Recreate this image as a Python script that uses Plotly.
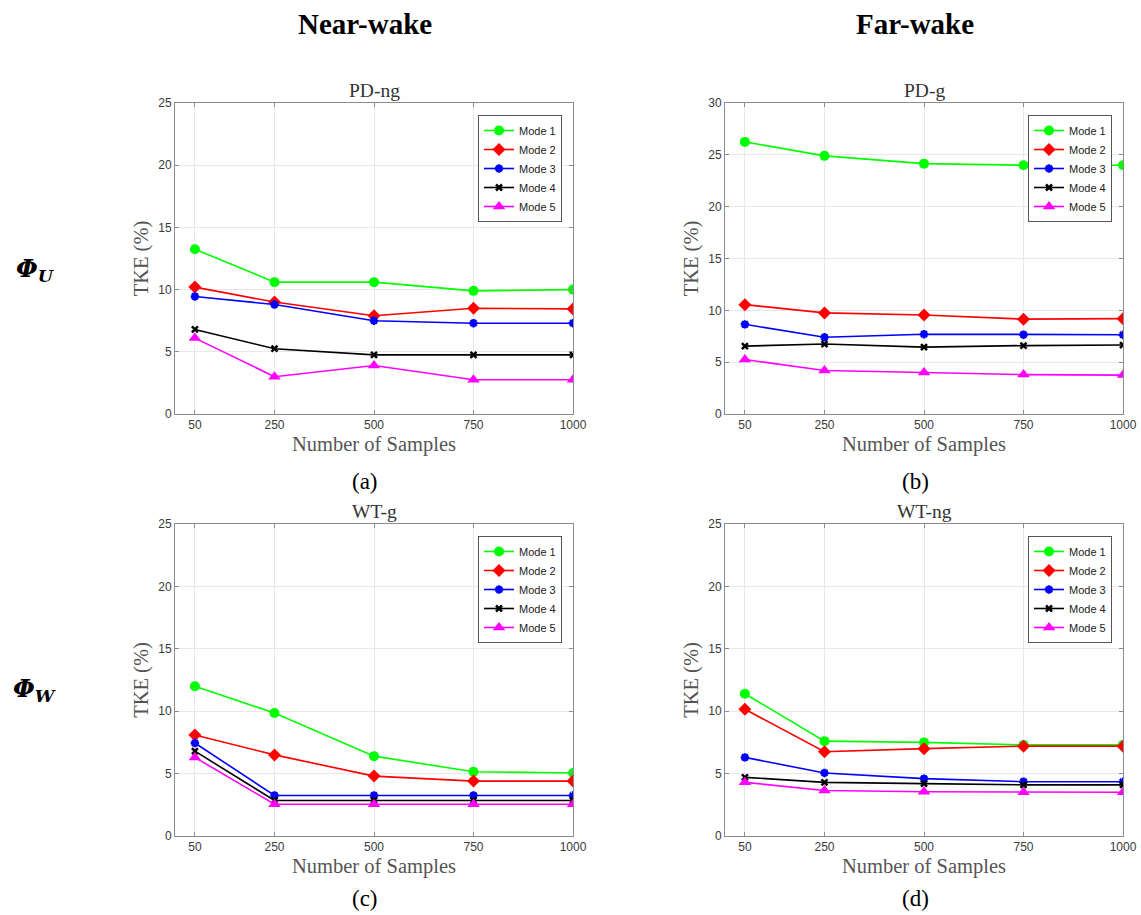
import plotly.graph_objects as go

samples = [50, 250, 500, 750, 1000]
mode_names = ["Mode 1", "Mode 2", "Mode 3", "Mode 4", "Mode 5"]

# (a) PD-ng
pd_ng = [
    [13.25, 10.6, 10.6, 9.9, 10.0],
    [10.2, 9.0, 7.9, 8.5, 8.45],
    [9.45, 8.8, 7.5, 7.3, 7.3],
    [6.8, 5.25, 4.75, 4.75, 4.75],
    [6.1, 3.0, 3.9, 2.75, 2.75],
]
# (b) PD-g
pd_g = [
    [26.25, 24.9, 24.15, 24.0, 24.0],
    [10.55, 9.75, 9.55, 9.15, 9.2],
    [8.65, 7.4, 7.7, 7.65, 7.65],
    [6.55, 6.75, 6.45, 6.6, 6.65],
    [5.25, 4.2, 4.0, 3.8, 3.75],
]
# (c) WT-g
wt_g = [
    [12.0, 9.85, 6.4, 5.15, 5.05],
    [8.1, 6.5, 4.8, 4.4, 4.4],
    [7.45, 3.25, 3.25, 3.25, 3.25],
    [6.8, 2.85, 2.85, 2.85, 2.85],
    [6.3, 2.55, 2.55, 2.55, 2.55],
]
# (d) WT-ng
wt_ng = [
    [11.4, 7.6, 7.5, 7.3, 7.3],
    [10.15, 6.75, 7.0, 7.2, 7.2],
    [6.3, 5.05, 4.6, 4.35, 4.35],
    [4.7, 4.3, 4.2, 4.1, 4.1],
    [4.3, 3.65, 3.55, 3.5, 3.5],
]

panel_titles = ["PD-ng", "PD-g", "WT-g", "WT-ng"]
panel_data = [pd_ng, pd_g, wt_g, wt_ng]
panel_ymax = [25, 30, 25, 25]
captions = ["(a)", "(b)", "(c)", "(d)"]

colors = ["#00FF00", "#FF0000", "#0000FF", "#000000", "#FF00FF"]
symbols = ["circle", "diamond", "asterisk-open", "x-thin-open", "triangle-up"]
msizes = [10, 10, 7, 6, 11]

W, H = 1141, 915
# plot areas in pixels (left, right, top, bottom)
areas = [
    (175, 573, 103, 414),
    (725, 1123, 103, 414),
    (175, 573, 524, 836),
    (725, 1123, 524, 836),
]
legend_pos = [(562, 115), (1112, 115), (562, 536), (1112, 536)]
caption_offset = [68, 68, 62, 62]

serif = "Liberation Serif"
sans = "Liberation Sans"

fig = go.Figure()
layout = dict(
    width=W, height=H, margin=dict(l=0, r=0, t=0, b=0, autoexpand=False),
    paper_bgcolor="white", plot_bgcolor="white", showlegend=True,
)
annotations = []


def ann(text, px, py, size, family=serif, color="black"):
    return dict(text=text, x=px / W, y=1 - py / H, xref="paper", yref="paper",
                showarrow=False, xanchor="center", yanchor="middle",
                font=dict(family=family, size=size, color=color))


for p in range(4):
    ax = "" if p == 0 else str(p + 1)
    leg = "legend" if p == 0 else f"legend{p + 1}"
    for m in range(5):
        mk = dict(symbol=symbols[m], size=msizes[m], color=colors[m])
        if symbols[m].endswith("open"):
            mk["line"] = dict(color=colors[m], width=2.5)
        fig.add_trace(go.Scatter(
            x=samples, y=panel_data[p][m], mode="lines+markers",
            name=mode_names[m], line=dict(color=colors[m], width=1.6),
            marker=mk, xaxis="x" + ax, yaxis="y" + ax, legend=leg,
        ))
    l, r, t, b = areas[p]
    axis_common = dict(
        showline=True, linecolor="#8c8c8c", linewidth=1, mirror="ticks",
        ticks="inside", ticklen=4, tickcolor="#8c8c8c", automargin=False,
        showgrid=True, gridcolor="#e8e8e8", gridwidth=1, zeroline=False,
        tickfont=dict(family=sans, size=12, color="#3a3a3a"),
    )
    layout["xaxis" + ax] = dict(
        axis_common, domain=[l / W, r / W], range=[0, 1000],
        tickvals=samples, anchor="y" + ax,
        title=dict(text="Number of Samples", font=dict(family=serif, size=20.5, color="#555555"), standoff=5),
    )
    layout["yaxis" + ax] = dict(
        axis_common, domain=[1 - b / H, 1 - t / H], range=[0, panel_ymax[p]],
        dtick=5, anchor="x" + ax,
        title=dict(text="TKE (%)", font=dict(family=serif, size=20.5, color="#555555"), standoff=4),
    )
    lx, ly = legend_pos[p]
    layout[leg] = dict(
        x=lx / W, y=1 - ly / H, xanchor="right", yanchor="top",
        xref="paper", yref="paper",
        bgcolor="white", bordercolor="#555555", borderwidth=1,
        font=dict(family=sans, size=11, color="#222222"),
        tracegroupgap=0, itemwidth=30,
    )
    annotations.append(ann(panel_titles[p], (l + r) / 2, t - 13, 19.5, color="#333333"))
    annotations.append(ann(captions[p], (l + r) / 2 - 9, b + caption_offset[p], 23))

annotations += [
    ann("<b>Near-wake</b>", 365, 24, 29),
    ann("<b>Far-wake</b>", 915, 24, 29),
    ann("<b><i>Φ</i></b><sub><b><i>U</i></b></sub>", 35, 270, 25, family="DejaVu Serif"),
    ann("<b><i>Φ</i></b><sub><b><i>W</i></b></sub>", 35, 690, 25, family="DejaVu Serif"),
]
layout["annotations"] = annotations
fig.update_layout(**layout)
fig.write_html("out.html")
